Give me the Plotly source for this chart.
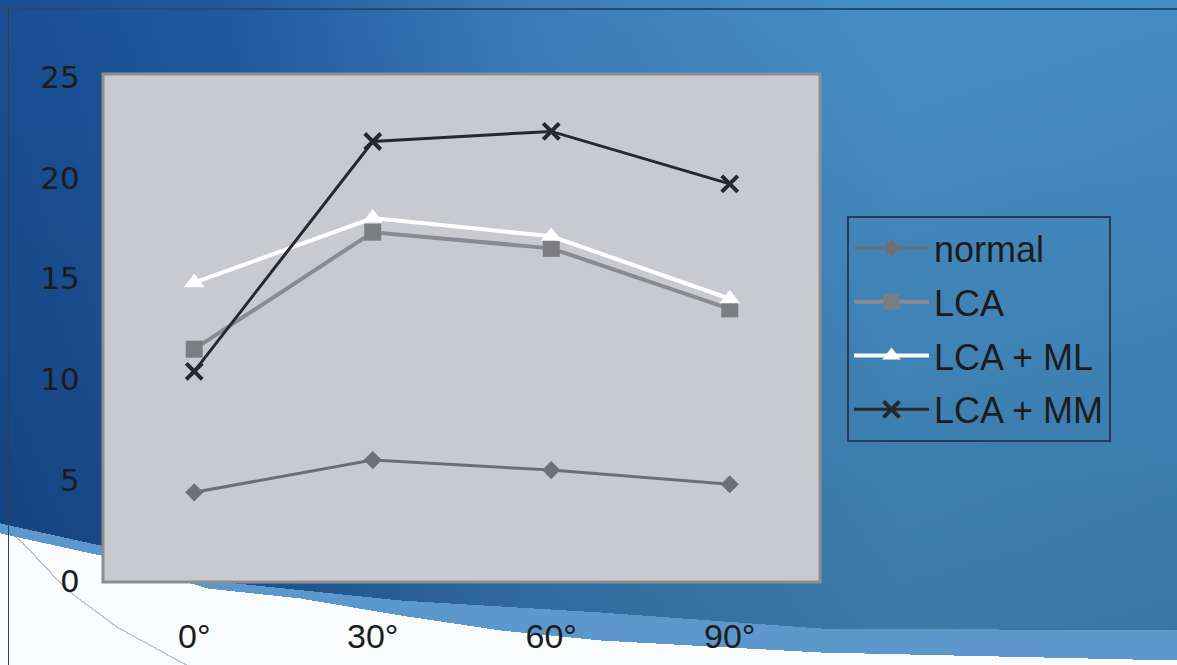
import base64
import struct
import zlib

import numpy as np
import plotly.graph_objects as go

# ---- data -------------------------------------------------------------
angles = ["0°", "30°", "60°", "90°"]
normal = [4.4, 6.0, 5.5, 4.8]
lca = [11.5, 17.3, 16.5, 13.5]
lca_ml = [14.8, 18.0, 17.1, 14.0]
lca_mm = [10.4, 21.8, 22.3, 19.7]
y_ticks = [0, 5, 10, 15, 20, 25]

# ---- page geometry ----------------------------------------------------
W, H = 1177, 665
ML, MR, MT, MB = 105, 358, 77, 84
PW, PH = W - ML - MR, H - MT - MB


def png_data_uri(rgb):
    h, w, _ = rgb.shape
    raw = b"".join(b"\x00" + rgb[i].tobytes() for i in range(h))

    def chunk(tag, data):
        body = tag + data
        return struct.pack(">I", len(data)) + body + struct.pack(">I", zlib.crc32(body) & 0xFFFFFFFF)

    png = (b"\x89PNG\r\n\x1a\n"
           + chunk(b"IHDR", struct.pack(">IIBBBBB", w, h, 8, 2, 0, 0, 0))
           + chunk(b"IDAT", zlib.compress(raw, 9))
           + chunk(b"IEND", b""))
    return "data:image/png;base64," + base64.b64encode(png).decode()


def slide_background():
    cols = np.arange(W, dtype=float)
    rows = np.arange(H, dtype=float)
    # blue gradient, dark on the left, lighter on the right
    hx = [0, 230, 520, 900, 1177]
    hc = np.array([[26, 78, 148], [34, 90, 160], [58, 124, 186], [70, 143, 198], [68, 140, 196]], float)
    base = np.stack([np.interp(cols, hx, hc[:, k]) for k in range(3)], axis=-1)
    shade = np.interp(rows, [0, H], [1.0, 0.84])
    img = base[None, :, :] * shade[:, None, None]

    # light-blue band and white swoosh along the bottom
    bx = [0, 100, 207, 400, 600, 820, 1177]
    band_top = np.interp(cols, bx, [523, 545, 580, 600, 612, 628, 630])
    wx = [0, 100, 207, 300, 400, 500, 600, 820, 1177]
    white_top = np.interp(cols, wx, [533, 555, 588, 598, 615, 630, 640, 652, 660])
    R = rows[:, None]
    band = (R >= band_top[None, :]) & (R < white_top[None, :])
    white = R >= white_top[None, :]
    img[band] = [92, 152, 204]
    img[white] = [250, 251, 253]

    # thin grey arc in the white area
    ax = [8, 20, 67, 117, 177, 200]
    ay = [528, 540, 590, 627, 660, 672]
    for x in range(8, 200):
        y0 = np.interp(x, ax, ay)
        y1 = np.interp(x + 1, ax, ay)
        for y in range(int(min(y0, y1)), int(max(y0, y1)) + 1):
            if 0 <= y < H and white[y, x]:
                img[y, x] = [195, 197, 202]

    # frame lines
    img[8:10, :] = [42, 72, 112]
    img[8:, 8] = [55, 60, 70]
    return np.clip(img, 0, 255).astype(np.uint8)


bg_uri = png_data_uri(slide_background())

# ---- traces -----------------------------------------------------------
series = [
    ("normal", normal, "#6d6e73", "#6f7075", "diamond", 14, 3),
    ("LCA", lca, "#8a8b90", "#7c7d81", "square", 17, 4),
    ("LCA + ML", lca_ml, "#ffffff", "#ffffff", "triangle-up", 18, 4),
    ("LCA + MM", lca_mm, "#26282e", "#26282e", "x-thin", 16, 3),
]

fig = go.Figure()
for name, vals, lcol, mcol, sym, msize, lw in series:
    marker = dict(symbol=sym, size=msize, color=mcol)
    if sym == "x-thin":
        marker["line"] = dict(color=mcol, width=4)
    fig.add_trace(go.Scatter(
        x=angles, y=vals, name=name, mode="lines+markers",
        line=dict(color=lcol, width=lw), marker=marker,
        legendgroup=name,
    ))

fig.update_layout(
    width=W, height=H,
    margin=dict(l=ML, r=MR, t=MT, b=MB, pad=0, autoexpand=False),
    paper_bgcolor="#ffffff",
    plot_bgcolor="rgba(0,0,0,0)",
    showlegend=True,
    legend=dict(
        x=(847 - ML) / PW, y=(H - MB - 216) / PH, xanchor="left", yanchor="top",
        bgcolor="rgba(0,0,0,0)", bordercolor="#28395a", borderwidth=2,
        font=dict(family="Liberation Sans, Arial, sans-serif", size=36, color="#1c1c1c"),
        tracegroupgap=4, itemwidth=75,
    ),
    images=[dict(
        source=bg_uri, xref="paper", yref="paper",
        x=-ML / PW, y=1 + MT / PH, sizex=W / PW, sizey=H / PH,
        xanchor="left", yanchor="top", sizing="stretch", layer="below",
    )],
    shapes=[dict(
        type="rect", xref="paper", yref="paper",
        x0=-2 / PW, x1=1 + 1 / PW, y0=-1 / PH, y1=1 + 3 / PH,
        fillcolor="#c9cacf", line=dict(color="#8d8e92", width=3), layer="below",
    )],
    xaxis=dict(
        type="category", range=[-0.5, 3.5], showgrid=False, zeroline=False,
        showline=False, ticks="outside", ticklen=25, tickcolor="rgba(0,0,0,0)",
        automargin=False,
        tickfont=dict(family="Liberation Sans Narrow, Liberation Sans, Arial, sans-serif",
                      size=34, color="#1c1c1c"),
    ),
    yaxis=dict(
        range=[0, 25], tickvals=y_ticks, showgrid=False, zeroline=False,
        showline=False, ticks="outside", ticklen=18, tickcolor="rgba(0,0,0,0)",
        automargin=False,
        tickfont=dict(family="DejaVu Sans, sans-serif", size=31, color="#1c1c1c"),
    ),
)

fig.write_html("out.html")
